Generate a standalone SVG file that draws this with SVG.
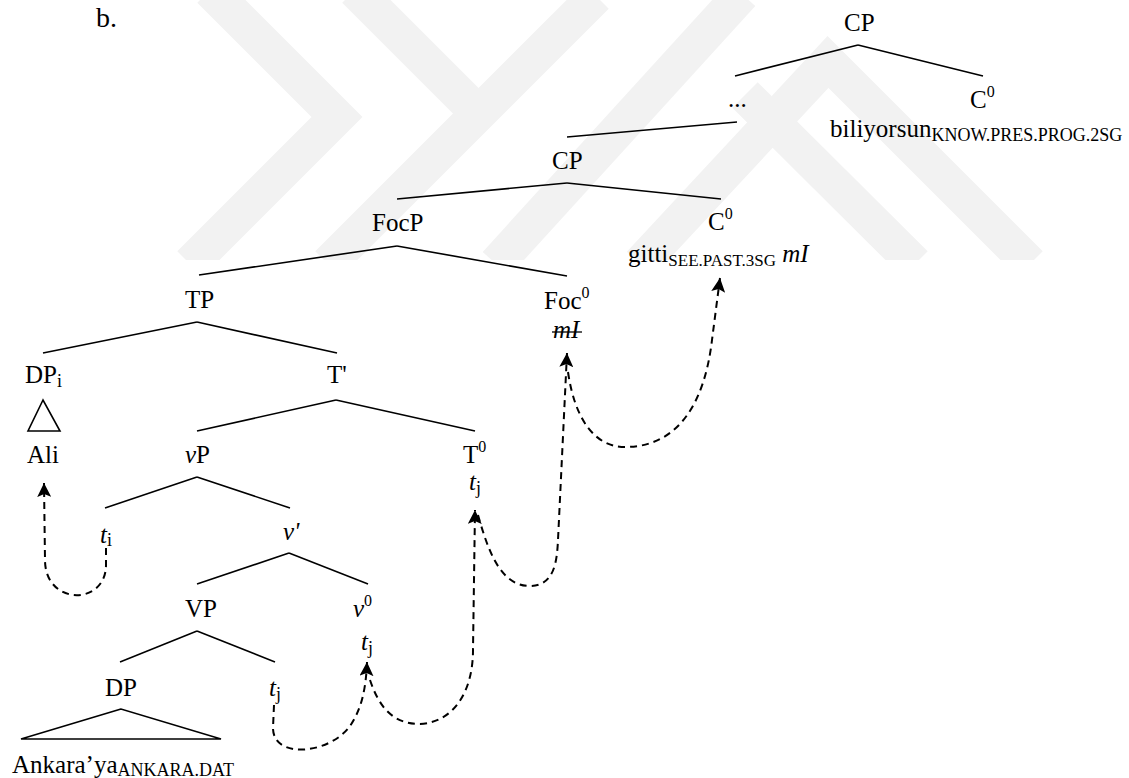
<svg xmlns="http://www.w3.org/2000/svg" width="1129" height="778" viewBox="0 0 1129 778">
<defs>
<style>
.t{font-family:"Liberation Serif","Times New Roman",serif;font-size:25px;fill:#000}
.it{font-style:italic}
.sub{font-size:18px}
.sc{font-size:17px}
.sup{font-size:16px}
.e{stroke:#000;stroke-width:1.6;fill:none}
.tri{stroke:#000;stroke-width:1.6;fill:#fff}
.mv{stroke:#000;stroke-width:2;fill:none;stroke-dasharray:7 5;marker-end:url(#ah)}
.wm{stroke:#f2f2f2;stroke-width:36;fill:none;stroke-linejoin:miter}
</style>
<marker id="ah" markerWidth="14" markerHeight="14" refX="14" refY="7" orient="auto" markerUnits="userSpaceOnUse">
<path d="M0,0 L14,7 L0,14 L3,7 z" fill="#000"/>
</marker>
<clipPath id="wmclip"><rect x="0" y="0" width="1129" height="260"/></clipPath>
</defs>
<rect width="1129" height="778" fill="#fff"/>
<g id="watermark" clip-path="url(#wmclip)">
<polyline class="wm" points="210,-10 337,117 190,264"/>
<polyline class="wm" points="355,-10 478,113"/>
<line class="wm" x1="328" y1="264" x2="596" y2="-4"/>
<line class="wm" x1="496" y1="264" x2="742" y2="-6"/>
<polyline class="wm" points="640,264 828,62 1030,264"/>
<line class="wm" x1="745" y1="95" x2="915" y2="264"/>
</g>
<g id="connectors">
<line class="e" x1="858" y1="45" x2="735" y2="76"/>
<line class="e" x1="858" y1="45" x2="983" y2="76"/>
<line class="e" x1="737" y1="122" x2="567" y2="137"/>
<line class="e" x1="567" y1="183" x2="397" y2="199"/>
<line class="e" x1="567" y1="183" x2="721" y2="199"/>
<line class="e" x1="397" y1="246" x2="199" y2="275"/>
<line class="e" x1="397" y1="246" x2="567" y2="276"/>
<line class="e" x1="197" y1="322" x2="43" y2="353"/>
<line class="e" x1="197" y1="322" x2="337" y2="353"/>
<line class="e" x1="336" y1="400" x2="197" y2="431"/>
<line class="e" x1="336" y1="400" x2="475" y2="431"/>
<line class="e" x1="197" y1="477" x2="105" y2="508"/>
<line class="e" x1="197" y1="477" x2="290" y2="508"/>
<line class="e" x1="289" y1="553" x2="197" y2="584"/>
<line class="e" x1="289" y1="553" x2="368" y2="584"/>
<line class="e" x1="197" y1="631" x2="120" y2="662"/>
<line class="e" x1="197" y1="631" x2="275" y2="662"/>
<path class="mv" d="M106,548 L106,565 C106,606 45,606 45,560 L44,483"/>
<path class="mv" d="M274,705 L273,728 C273,760 330,754 350,726 C361,710 366,690 367,662"/>
<path class="mv" d="M370,680 C380,710 395,724 420,724 C455,722 473,690 473,650 L475,510"/>
<path class="mv" d="M478,515 C488,550 500,586 530,586 C555,586 557,560 558,540 L567,353"/>
<path class="mv" d="M568,372 C575,420 595,447 625,447 C680,447 705,400 712,340 L720,278"/>
</g>
<g id="label-b"><text class="t" x="96" y="27" style="font-size:28px">b.</text></g>
<g id="n-cp-top"><text class="t" x="844" y="31">CP</text></g>
<g id="n-dots"><text class="t" x="728" y="107">...</text></g>
<g id="n-c0-top"><text class="t" x="970" y="108">C<tspan class="sup" dy="-11">0</tspan></text></g>
<g id="n-biliyorsun"><text class="t" x="830" y="137">biliyorsun<tspan class="sub" dy="4">KNOW.PRES.PROG.2SG</tspan></text></g>
<g id="n-cp-mid"><text class="t" x="552" y="169">CP</text></g>
<g id="n-focp"><text class="t" x="372" y="231">FocP</text></g>
<g id="n-c0-mid"><text class="t" x="708" y="230">C<tspan class="sup" dy="-11">0</tspan></text></g>
<g id="n-gitti"><text class="t" x="628" y="262">gitti<tspan class="sc" dy="4">SEE.PAST.3SG</tspan><tspan dy="-4"> </tspan><tspan class="it">mI</tspan></text></g>
<g id="n-tp"><text class="t" x="185" y="308">TP</text></g>
<g id="n-foc0"><text class="t" x="544" y="309">Foc<tspan class="sup" dy="-11">0</tspan></text></g>
<g id="n-mi-struck"><text class="t it" x="553" y="338">mI</text><line x1="552" y1="332" x2="582" y2="332" stroke="#000" stroke-width="1.3"/></g>
<g id="n-dpi"><text class="t" x="25" y="383">DP<tspan class="sub" dy="4">i</tspan></text></g>
<g id="n-tbar"><text class="t" x="327" y="383">T'</text></g>
<g id="n-dpi-tri"><polygon class="tri" points="43,400 28,431 60,431"/></g>
<g id="n-ali"><text class="t" x="27" y="463">Ali</text></g>
<g id="n-vp"><text class="t" x="185" y="463"><tspan class="it">v</tspan>P</text></g>
<g id="n-t0"><text class="t" x="463" y="463">T<tspan class="sup" dy="-11">0</tspan></text></g>
<g id="n-tj-t0"><text class="t" x="469" y="490"><tspan class="it">t</tspan><tspan class="sub" dy="4">j</tspan></text></g>
<g id="n-ti"><text class="t" x="100" y="543"><tspan class="it">t</tspan><tspan class="sub" dy="3">i</tspan></text></g>
<g id="n-vbar"><text class="t it" x="283" y="540">v'</text></g>
<g id="n-vp2"><text class="t" x="185" y="617">VP</text></g>
<g id="n-v0"><text class="t" x="353" y="617"><tspan class="it">v</tspan><tspan class="sup" dy="-11">0</tspan></text></g>
<g id="n-tj-v0"><text class="t" x="361" y="650"><tspan class="it">t</tspan><tspan class="sub" dy="4">j</tspan></text></g>
<g id="n-dp"><text class="t" x="105" y="696">DP</text></g>
<g id="n-tj-vp"><text class="t" x="269" y="696"><tspan class="it">t</tspan><tspan class="sub" dy="4">j</tspan></text></g>
<g id="n-dp-tri"><polygon class="tri" points="121,709 21,739 221,739"/></g>
<g id="n-ankara"><text class="t" x="12" y="773">Ankara’ya<tspan class="sub" dy="3">ANKARA.DAT</tspan></text></g>
</svg>
